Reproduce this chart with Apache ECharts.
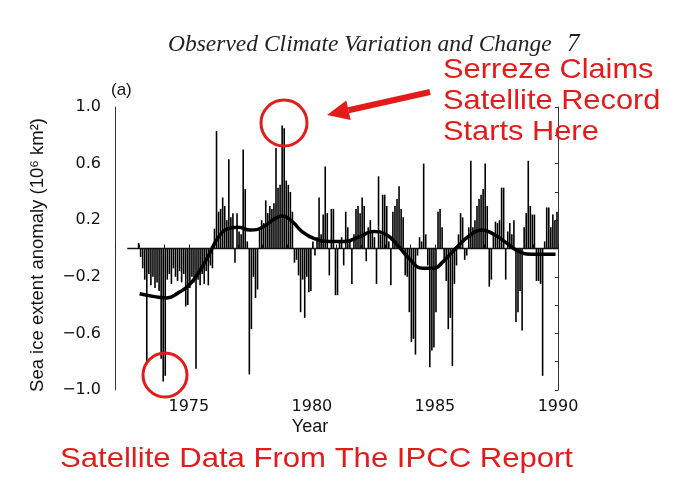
<!DOCTYPE html>
<html><head><meta charset="utf-8">
<script src="https://cdn.jsdelivr.net/npm/echarts@6/dist/echarts.min.js"></script>
<style>html,body{margin:0;padding:0;background:#fff}#c{width:673px;height:496px}</style>
</head><body><div id="c"></div>
<script>
// Tick labels
const yTickLabels = [-1.0, -0.6, -0.2, 0.2, 0.6, 1.0];
const xTickLabels = [1975, 1980, 1985, 1990];

// Monthly sea ice extent anomaly (10^6 km^2)
const a1972 = [0.04]; // December only
const a1973 = [-0.06,-0.14,-0.22,-0.82,-0.18,-0.26,-0.20,-0.28,-0.24,-0.30,-0.78,-0.94];
const a1974 = [-0.90,-0.22,-0.18,-0.25,-0.14,-0.20,-0.23,-0.16,-0.24,-0.18,-0.41,-0.40];
const a1975 = [-0.28,-0.20,-0.24,-0.85,-0.22,-0.26,-0.18,-0.25,-0.16,-0.26,-0.12,-0.14];
const a1976 = [0.14,0.83,0.26,0.28,0.36,0.30,0.20,0.63,0.22,0.25,-0.10,0.25];
const a1977 = [0.12,0.10,0.70,0.42,0.05,-0.89,-0.57,-0.20,-0.35,-0.29,0.15,0.20];
const a1978 = [0.18,0.34,0.25,0.30,0.28,0.32,0.71,0.43,0.45,0.87,0.85,0.48];
const a1979 = [0.45,0.40,0.26,-0.10,-0.08,-0.19,-0.45,-0.22,-0.49,-0.20,-0.31,-0.30];
const a1980 = [0.05,-0.05,0.08,0.36,0.10,0.24,0.58,0.25,-0.19,0.28,0.28,-0.33];
const a1981 = [-0.33,0.05,0.08,-0.12,0.26,0.15,0.05,-0.25,0.10,0.28,0.30,0.25];
const a1982 = [0.36,0.30,-0.09,0.15,0.20,0.12,0.08,-0.25,0.51,0.10,0.38,0.38];
const a1983 = [0.30,0.05,-0.26,0.26,0.30,0.35,0.44,0.28,0.22,-0.19,-0.20,-0.45];
const a1984 = [-0.66,-0.64,-0.75,-0.05,0.08,0.05,0.60,0.10,-0.12,-0.84,-0.72,-0.70];
const a1985 = [-0.45,0.26,0.28,0.15,-0.10,-0.23,-0.57,-0.49,-0.83,-0.25,-0.12,0.10];
const a1986 = [0.25,0.22,-0.08,-0.05,0.15,0.62,0.15,0.20,0.30,0.35,0.38,0.42];
const a1987 = [0.60,0.30,-0.27,-0.22,0.10,0.19,0.18,0.20,0.43,0.43,-0.22,0.12];
const a1988 = [0.18,0.10,0.20,-0.52,-0.45,-0.30,-0.58,0.15,0.25,0.62,0.30,0.24];
const a1989 = [0.24,-0.23,-0.23,-0.25,-0.90,0.05,0.29,0.29,0.15,0.24,0.20,0.26];

// Smoothed curve
const smoothYears  = [1973.0,1973.6,1974.1,1974.6,1975.0,1975.4,1975.8,1976.2,1976.6,1977.0,1977.5,1978.0,1978.4,1978.8,1979.2,1979.6,1980.1,1980.7,1981.3,1981.9,1982.5,1983.0,1983.5,1984.0,1984.5,1984.9,1985.4,1985.9,1986.4,1986.9,1987.4,1987.9,1988.4,1988.9,1989.4,1989.9];
const smoothValues = [-0.32,-0.34,-0.35,-0.31,-0.26,-0.17,-0.05,0.08,0.14,0.15,0.13,0.15,0.20,0.23,0.19,0.12,0.07,0.05,0.05,0.08,0.12,0.10,0.02,-0.08,-0.14,-0.14,-0.08,0.01,0.09,0.13,0.10,0.04,-0.02,-0.04,-0.04,-0.04];

// Build data
const bars = [[1972 + 11.5/12, a1972[0]]];
[[1973,a1973],[1974,a1974],[1975,a1975],[1976,a1976],[1977,a1977],[1978,a1978],[1979,a1979],
 [1980,a1980],[1981,a1981],[1982,a1982],[1983,a1983],[1984,a1984],[1985,a1985],[1986,a1986],
 [1987,a1987],[1988,a1988],[1989,a1989]].forEach(([yr, arr]) => {
  arr.forEach((v, m) => bars.push([yr + (m + 0.5)/12, v]));
});
const curve = smoothYears.map((y, i) => [y, smoothValues[i]]);
const baseline = [[1972.5, 0], [1990, 0]];

const RED = '#e31b1b';
const fmtY = v => {
  const r = Math.round(v * 10) / 10;
  if (!yTickLabels.some(t => Math.abs(t - r) < 1e-6)) return '';
  return (r < 0 ? '\u2212' : '') + Math.abs(r).toFixed(1);
};

// Arrow geometry
const tip = [327, 115], tail = [430, 92];
const dx = tail[0]-tip[0], dy = tail[1]-tip[1], L = Math.hypot(dx, dy);
const ux = dx/L, uy = dy/L, hl = 22, hw = 10;
const bc = [tip[0]+ux*hl, tip[1]+uy*hl];

const chart = echarts.init(document.getElementById('c'));
chart.setOption({
  animation: false,
  backgroundColor: '#fff',
  grid: { left: 115, right: 115, top: 107, bottom: 106 },
  xAxis: {
    type: 'value', min: 1972, max: 1990, interval: 1,
    axisLine: { show: false },
    axisTick: { show: true, inside: true, length: 4, lineStyle: { color: '#222' } },
    splitLine: { show: false },
    axisLabel: {
      margin: 9, color: '#111', fontSize: 16, fontFamily: 'DejaVu Sans',
      formatter: v => xTickLabels.includes(Math.round(v)) ? String(Math.round(v)) : ''
    }
  },
  yAxis: [{
    type: 'value', min: -1, max: 1, interval: 0.2,
    axisLine: { show: true, lineStyle: { color: '#333', width: 1 } },
    axisTick: { show: false },
    splitLine: { show: false },
    axisLabel: { margin: 14, color: '#111', fontSize: 16, fontFamily: 'DejaVu Sans', formatter: fmtY }
  }, {
    type: 'value', min: -1, max: 1, interval: 0.2, position: 'right',
    axisLine: { show: true, lineStyle: { color: '#333', width: 1 } },
    axisTick: { show: true, inside: true, length: 3, lineStyle: { color: '#333' } },
    splitLine: { show: false },
    axisLabel: { show: false }
  }],
  series: [{
    type: 'bar', data: bars, barWidth: 1.6, yAxisIndex: 0,
    itemStyle: { color: '#000' }, silent: true
  }, {
    type: 'line', data: baseline, symbol: 'none', silent: true,
    lineStyle: { color: '#111', width: 1.3 }
  }, {
    type: 'line', data: curve, symbol: 'none', smooth: 0.5, silent: true,
    lineStyle: { color: '#000', width: 3.5 }, z: 5
  }],
  graphic: [
    { type: 'text', x: 168, y: 45, z: 50, style: { text: 'Observed Climate Variation and Change', font: 'italic 23.5px "Liberation Serif"', fill: '#222', align: 'left', verticalAlign: 'middle' } },
    { type: 'text', x: 567, y: 44, z: 50, style: { text: '7', font: 'italic 25px "Liberation Serif"', fill: '#222', align: 'left', verticalAlign: 'middle' } },
    { type: 'text', x: 111, y: 90, z: 50, style: { text: '(a)', font: '17px "Liberation Sans"', fill: '#111', align: 'left', verticalAlign: 'middle' } },
    { type: 'text', x: 38, y: 255, rotation: Math.PI/2, z: 50, style: { text: 'Sea ice extent anomaly (10\u2076 km\u00B2)', font: '18.5px "Liberation Sans"', fill: '#111', align: 'center', verticalAlign: 'middle' } },
    { type: 'text', x: 310, y: 427, z: 50, style: { text: 'Year', font: '18px "Liberation Sans"', fill: '#111', align: 'center', verticalAlign: 'middle' } },
    { type: 'text', x: 443, y: 70, scaleX: 1.1, z: 50, style: { text: 'Serreze Claims', font: '28px "Liberation Sans"', fill: RED, align: 'left', verticalAlign: 'middle' } },
    { type: 'text', x: 443, y: 101, scaleX: 1.1, z: 50, style: { text: 'Satellite Record', font: '28px "Liberation Sans"', fill: RED, align: 'left', verticalAlign: 'middle' } },
    { type: 'text', x: 443, y: 132, scaleX: 1.1, z: 50, style: { text: 'Starts Here', font: '28px "Liberation Sans"', fill: RED, align: 'left', verticalAlign: 'middle' } },
    { type: 'text', x: 60, y: 459, scaleX: 1.11, z: 50, style: { text: 'Satellite Data From The IPCC Report', font: '28px "Liberation Sans"', fill: RED, align: 'left', verticalAlign: 'middle' } },
    { type: 'circle', z: 60, shape: { cx: 284, cy: 123, r: 23 }, style: { fill: 'none', stroke: RED, lineWidth: 3 } },
    { type: 'circle', z: 60, shape: { cx: 165, cy: 375, r: 22 }, style: { fill: 'none', stroke: RED, lineWidth: 3 } },
    { type: 'line', z: 60, shape: { x1: bc[0], y1: bc[1], x2: tail[0], y2: tail[1] }, style: { stroke: RED, lineWidth: 6 } },
    { type: 'polygon', z: 60, shape: { points: [tip, [bc[0]-uy*hw, bc[1]+ux*hw], [bc[0]+uy*hw, bc[1]-ux*hw]] }, style: { fill: RED } }
  ]
});
</script>
</body></html>
